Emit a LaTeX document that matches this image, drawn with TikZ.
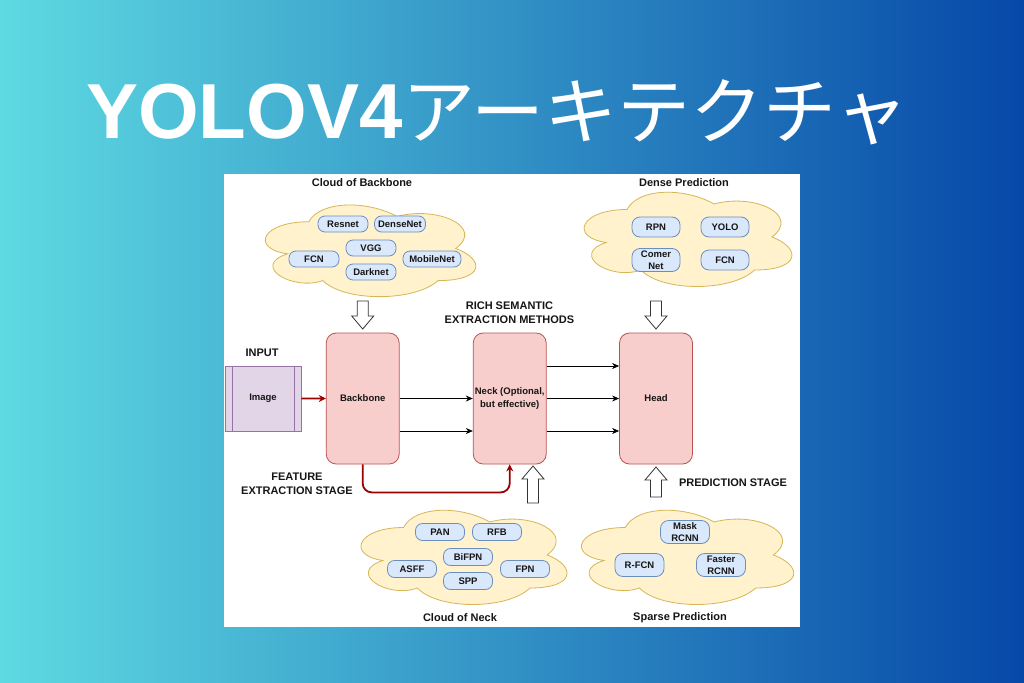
\documentclass[tikz,border=0pt]{standalone}
\usepackage{fontspec}
\setmainfont{Liberation Sans}
\newfontfamily\cjkfont{Noto Sans CJK JP}
\usetikzlibrary{arrows.meta}
\definecolor{bgL}{RGB}{94,218,226}
\definecolor{bgR}{RGB}{6,72,168}
\definecolor{txt}{RGB}{22,22,22}
\definecolor{pillF}{HTML}{DAE8FC}
\definecolor{pillD}{HTML}{6C8EBF}
\definecolor{redF}{HTML}{F8CECC}
\definecolor{redD}{HTML}{B85450}
\definecolor{purF}{HTML}{E1D5E7}
\definecolor{purD}{HTML}{9673A6}
\definecolor{cloudF}{HTML}{FFF2CC}
\definecolor{cloudD}{HTML}{D6B656}
\definecolor{darkred}{HTML}{990000}
\newcommand\mycloud[4]{\begin{scope}[shift={(#1,#2)},xscale=#3,yscale=#4]
\draw[cloudst] (0.25,0.25) .. controls (0.05,0.25) and (0,0.5) .. (0.16,0.55)
 .. controls (0,0.66) and (0.18,0.9) .. (0.31,0.8)
 .. controls (0.4,1) and (0.7,1) .. (0.8,0.8)
 .. controls (1,0.8) and (1,0.6) .. (0.875,0.5)
 .. controls (1,0.3) and (0.8,0.1) .. (0.625,0.2)
 .. controls (0.5,0.05) and (0.3,0.05) .. (0.25,0.25) -- cycle;
\end{scope}}
\newcommand\blockarrow[4]{\draw[blk] (#1-5.5,#2) -- (#1+5.5,#2) -- (#1+5.5,#3) -- (#1+11,#3) -- (#1,#4) -- (#1-11,#3) -- (#1-5.5,#3) -- cycle;}
\tikzset{
 cloudst/.style={fill=cloudF,draw=cloudD,line width=0.8pt},
 blk/.style={fill=white,draw=black!80,line width=0.8pt,line join=miter},
 lbl/.style={font=\bfseries\fontsize{11}{14}\selectfont,text=txt,align=center,inner sep=0pt},
 pill/.style={draw=pillD,fill=pillF,rounded corners=7pt,line width=0.8pt,
   font=\bfseries\fontsize{9.5}{12.3}\selectfont,text=txt,align=center,inner sep=0pt,
   minimum width=50pt,minimum height=16pt},
 bigbox/.style={draw=redD,fill=redF,rounded corners=10pt,line width=0.8pt,
   font=\bfseries\fontsize{9.5}{12.3}\selectfont,text=txt,align=center,inner sep=0pt,
   minimum width=73pt,minimum height=131pt},
 arr/.style={-{Stealth[length=7pt,width=6pt]},line width=0.7pt,draw=black},
 redarr/.style={-{Stealth[length=7pt,width=7pt]},line width=1.8pt,draw=darkred,rounded corners=9pt},
}
\begin{document}
\begin{tikzpicture}[x=1pt,y=-1pt]
\useasboundingbox (0,0) rectangle (1024,682);
\shade[left color=bgL,right color=bgR] (0,0) rectangle (1024,682);
% title
\node[anchor=base west,inner sep=0pt,text=white] (title) at (86,138)
 {\fontsize{78}{80}\selectfont\bfseries YOLOV4\cjkfont\mdseries\fontsize{73}{80}\selectfont アーキテクチャ};
% panel
\fill[white] (224,174) rectangle (800,627);
% clouds
\mycloud{250}{195}{235}{107}
\mycloud{569}{182}{232}{110}
\mycloud{346}{500}{230}{110}
\mycloud{566}{500}{237}{110}
% cloud labels
\node[lbl] (lcb) at (362,183) {Cloud of Backbone};
\node[lbl] (ldp) at (684,183) {Dense Prediction};
\node[lbl] (lcn) at (460,618) {Cloud of Neck};
\node[lbl] (lsp) at (680,618) {Sparse Prediction};
% backbone cloud items
\node[pill] (resnet) at (343,224) {Resnet};
\node[pill,minimum width=51pt] (densenet) at (400,224) {DenseNet};
\node[pill] (vgg) at (371,248) {VGG};
\node[pill] (fcn1) at (314,259) {FCN};
\node[pill,minimum width=58pt] (mobilenet) at (432,259) {MobileNet};
\node[pill] (darknet) at (371,272) {Darknet};
% dense prediction items
\node[pill,minimum width=48pt,minimum height=20pt,rounded corners=8pt] (rpn) at (656,227) {RPN};
\node[pill,minimum width=48pt,minimum height=20pt,rounded corners=8pt] (yolo) at (725,227) {YOLO};
\node[pill,minimum width=48pt,minimum height=23pt,rounded corners=8pt] (comer) at (656,260) {Comer\\Net};
\node[pill,minimum width=48pt,minimum height=20pt,rounded corners=8pt] (fcn2) at (725,260) {FCN};
% neck items
\node[pill,minimum width=49pt,minimum height=17pt] (pan) at (440,532) {PAN};
\node[pill,minimum width=49pt,minimum height=17pt] (rfb) at (497,532) {RFB};
\node[pill,minimum width=49pt,minimum height=17pt] (bifpn) at (468,557) {BiFPN};
\node[pill,minimum width=49pt,minimum height=17pt] (asff) at (412,569) {ASFF};
\node[pill,minimum width=49pt,minimum height=17pt] (fpn) at (525,569) {FPN};
\node[pill,minimum width=49pt,minimum height=17pt] (spp) at (468,581) {SPP};
% sparse items
\node[pill,minimum width=49pt,minimum height=23pt,rounded corners=8pt] (mask) at (685,532) {Mask\\RCNN};
\node[pill,minimum width=49pt,minimum height=23pt,rounded corners=8pt] (rfcn) at (639.5,565) {R-FCN};
\node[pill,minimum width=49pt,minimum height=23pt,rounded corners=8pt] (faster) at (721,565) {Faster\\RCNN};
% main row
\node[draw=purD,fill=purF,line width=0.8pt,minimum width=76pt,minimum height=65pt,inner sep=0pt,
  font=\bfseries\fontsize{9.5}{12.3}\selectfont,text=txt] (img) at (263,398.4) {Image};
\draw[purD,line width=0.8pt] ([xshift=7.5pt]img.north west) -- ([xshift=7.5pt]img.south west);
\draw[purD,line width=0.8pt] ([xshift=-7.5pt]img.north east) -- ([xshift=-7.5pt]img.south east);
\node[bigbox] (bb) at (362.7,398.5) {Backbone};
\node[bigbox] (neck) at (509.7,398.5) {Neck (Optional,\\but effective)};
\node[bigbox] (head) at (656,398.5) {Head};
% labels
\node[lbl] (linput) at (262,353) {INPUT};
\node[lbl] (lrich) at (509.5,313) {RICH SEMANTIC\\EXTRACTION METHODS};
\node[lbl] (lfeat) at (297,484) {FEATURE\\EXTRACTION STAGE};
\node[lbl] (lpred) at (733,483) {PREDICTION STAGE};
% connectors
\draw[redarr] (img.east) -- (bb.west);
\draw[arr] (bb.east) -- (neck.west);
\draw[arr] ([yshift=-32.5pt]bb.east) -- ([yshift=-32.5pt]neck.west);
\draw[arr] ([yshift=32.5pt]neck.east) -- ([yshift=32.5pt]head.west);
\draw[arr] (neck.east) -- (head.west);
\draw[arr] ([yshift=-32.5pt]neck.east) -- ([yshift=-32.5pt]head.west);
\draw[redarr] (bb.south) -- ++(0,28) -| (neck.south);
% block arrows
\blockarrow{362.7}{301}{316}{329}
\blockarrow{656}{301}{316}{329}
\blockarrow{533}{503}{479}{466}
\blockarrow{656}{497}{480}{467}
\end{tikzpicture}
\end{document}
